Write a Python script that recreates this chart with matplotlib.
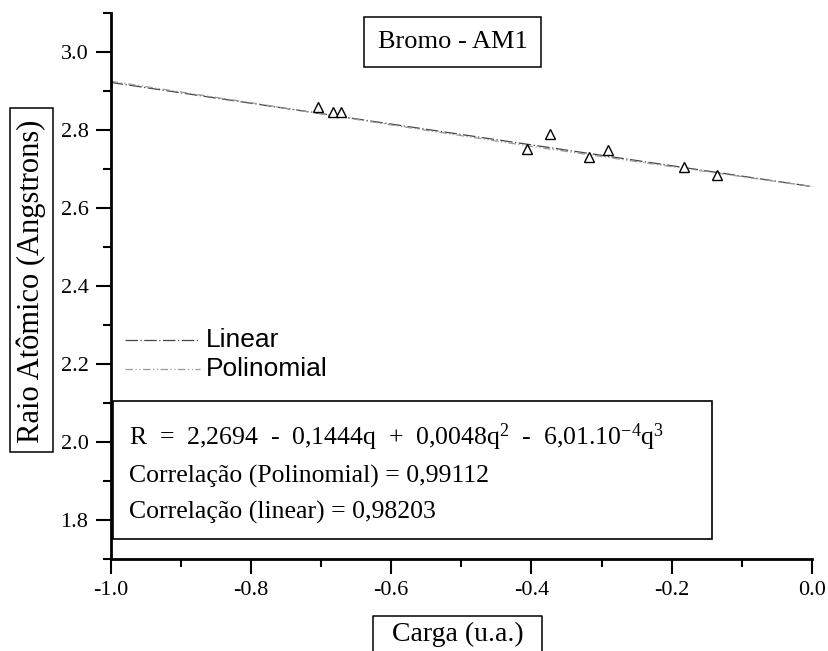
import matplotlib
matplotlib.use("Agg")
import matplotlib.pyplot as plt
from matplotlib.ticker import MultipleLocator
from matplotlib.patches import Rectangle

# Data
carga = [-0.704, -0.683, -0.672, -0.406, -0.373, -0.318, -0.291, -0.182, -0.136]
raio = [2.859, 2.846, 2.846, 2.751, 2.790, 2.731, 2.749, 2.705, 2.685]

linear_x = [-1.0, 0.0]
linear_y = [2.922, 2.655]

poli_x = [-1.0, -0.8, -0.6, -0.4, -0.2, 0.0]
poli_y = [2.925, 2.870, 2.813, 2.758, 2.706, 2.655]

xticks = [-1.0, -0.8, -0.6, -0.4, -0.2, 0.0]
yticks = [1.8, 2.0, 2.2, 2.4, 2.6, 2.8, 3.0]

title_text = "Bromo - AM1"
xlabel_text = "Carga (u.a.)"
ylabel_text = "Raio Atômico (Angstrons)"
eq_lines = [
    r"R = 2,2694 - 0,1444q + 0,0048q$^{2}$ - 6,01.10$^{-4}$q$^{3}$",
    "Correlação (Polinomial) = 0,99112",
    "Correlação (linear) = 0,98203",
]

plt.rcParams['font.family'] = ['Liberation Serif', 'DejaVu Serif']
plt.rcParams['mathtext.fontset'] = 'custom'
plt.rcParams['mathtext.rm'] = 'Liberation Serif'
plt.rcParams['mathtext.it'] = 'Liberation Serif'
plt.rcParams['mathtext.bf'] = 'Liberation Serif:bold'

W, H = 829, 651
fig = plt.figure(figsize=(W / 100, H / 100), dpi=100)
ax = fig.add_axes([110.7 / W, 1 - 559 / H, (812 - 110.7) / W, (559 - 13) / H])

ax.plot(linear_x, linear_y, color='#444444', lw=0.9, ls=(0, (10, 2, 1, 2)), label='Linear')
ax.plot(poli_x, poli_y, color='#999999', lw=0.9, ls=(0, (6, 2, 1, 2, 1, 2)), label='Polinomial')
ax.plot(carga, raio, ls='none', marker='^', markersize=7, markerfacecolor='white',
        markeredgecolor='black', markeredgewidth=1.0)

ax.set_xlim(-1.0, 0.0)
ax.set_ylim(1.7, 3.1)
ax.set_xticks(xticks)
ax.set_xticklabels([f"{v:.1f}" for v in xticks])
ax.set_yticks(yticks)
ax.set_yticklabels([f"{v:.1f}" for v in yticks])
ax.xaxis.set_minor_locator(MultipleLocator(0.1))
ax.yaxis.set_minor_locator(MultipleLocator(0.1))
ax.tick_params(which='major', direction='out', length=11, width=1.5, labelsize=16, pad=5)
ax.tick_params(which='minor', direction='out', length=6, width=1.5)
for s in ['top', 'right']:
    ax.spines[s].set_visible(False)
ax.spines['left'].set_linewidth(2)
ax.spines['bottom'].set_linewidth(2)


def fx(px):
    return px / W


def fy(py):
    return 1 - py / H


# Legend (no frame)
leg_font = {'family': 'Liberation Sans', 'size': 19}
for lbl, col, ls, py in [('Linear', '#444444', (0, (10, 2, 1, 2)), 340),
                         ('Polinomial', '#999999', (0, (6, 2, 1, 2, 1, 2)), 369)]:
    fig.add_artist(plt.Line2D([fx(125), fx(200)], [fy(py), fy(py)], transform=fig.transFigure,
                              color=col, lw=0.9, ls=ls))
    fig.text(fx(206), fy(py), lbl, fontdict=leg_font, ha='left', va='center')

# Equation box
fig.add_artist(Rectangle((fx(113), fy(539)), fx(712) - fx(113), fy(401) - fy(539),
                         transform=fig.transFigure, fill=False, edgecolor='black', lw=1.2))
for i, (t, py) in enumerate(zip(eq_lines, [437, 476, 512])):
    if i == 0:
        t = t.replace(" ", "  ")
    fig.text(fx(129), fy(py), t, fontsize=18.5, va='center', ha='left')

# Title box
fig.add_artist(Rectangle((fx(364), fy(67)), fx(541) - fx(364), fy(17) - fy(67),
                         transform=fig.transFigure, fill=False, edgecolor='black', lw=1.1))
fig.text(fx(452.5), fy(42), title_text, fontsize=19, ha='center', va='center')

# Y label box
fig.add_artist(Rectangle((fx(10), fy(452)), fx(53) - fx(10), fy(108) - fy(452),
                         transform=fig.transFigure, fill=False, edgecolor='black', lw=1.1))
fig.text(fx(31.5), fy(281), ylabel_text, fontsize=22, rotation=90, ha='center', va='center')

# X label box (open at bottom)
fig.text(fx(458), fy(634), xlabel_text, fontsize=20, ha='center', va='center')
fig.add_artist(plt.Line2D([fx(373), fx(373), fx(542), fx(542)], [0, fy(616), fy(616), 0],
                          transform=fig.transFigure, color='black', lw=1.1))

fig.savefig('out.png', dpi=100)
